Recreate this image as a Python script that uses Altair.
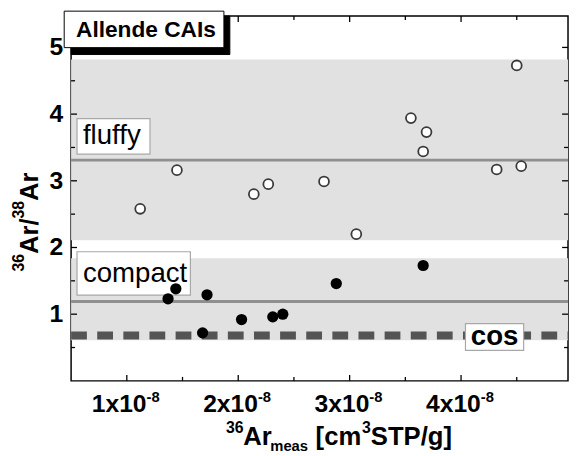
import altair as alt
import pandas as pd

# ---- data (x in units of 1e-8 cm3STP/g) ----
fluffy_x = [1.12, 1.45, 2.14, 2.27, 2.77, 3.06, 3.55, 3.69, 3.66, 4.32, 4.54, 4.50]
fluffy_y = [2.58, 3.16, 2.80, 2.95, 2.99, 2.20, 3.94, 3.73, 3.44, 3.17, 3.22, 4.73]
compact_x = [1.37, 1.44, 1.72, 1.68, 2.03, 2.31, 2.40, 2.88, 3.66]
compact_y = [1.23, 1.38, 1.29, 0.72, 0.92, 0.96, 1.00, 1.46, 1.73]

band_lo = [2.11, 0.61]
band_hi = [4.82, 1.84]
mean_lines = [3.31, 1.19]
cos_value = [0.68]

x_major = [1, 2, 3, 4]
x_minor = [1.5, 2.5, 3.5, 4.5]
y_major = [1, 2, 3, 4, 5]
y_minor = [0.5, 1.5, 2.5, 3.5, 4.5]
x_tick_text = ["1x10", "2x10", "3x10", "4x10"]
y_tick_text = ["1", "2", "3", "4", "5"]

W, H = 504, 370
FONT = "Liberation Sans"
xs = alt.Scale(domain=[0.5, 4.96], nice=False, zero=False)
ys = alt.Scale(domain=[0, 5.47], nice=False, zero=False)

one = pd.DataFrame({"k": [0]})


def X(field):
    return alt.X(field, type="quantitative", scale=xs, axis=None)


def Y(field):
    return alt.Y(field, type="quantitative", scale=ys, axis=None)


def box(x0, y0, x1, y1, fill, stroke, sw):
    return alt.Chart(one).mark_rect(fill=fill, stroke=stroke, strokeWidth=sw).encode(
        x=alt.value(x0), x2=alt.value(x1), y=alt.value(y0), y2=alt.value(y1))


def txt(s, x, y, size, weight="normal", align="left", angle=0):
    return alt.Chart(one).mark_text(
        text=s, font=FONT, fontSize=size, fontWeight=weight, align=align,
        baseline="alphabetic", angle=angle, color="black").encode(
        x=alt.value(x), y=alt.value(y))


bands_df = pd.DataFrame({"lo": band_lo, "hi": band_hi})
bands = alt.Chart(bands_df).mark_rect(color="#e1e1e1").encode(
    y=Y("lo"), y2="hi:Q", x=alt.value(0), x2=alt.value(W))

lines = alt.Chart(pd.DataFrame({"v": mean_lines})).mark_rule(
    color="#8f8f8f", strokeWidth=3).encode(y=Y("v"), x=alt.value(0), x2=alt.value(W))

cos_line = alt.Chart(pd.DataFrame({"v": cos_value})).mark_rule(
    color="#545454", strokeWidth=8, strokeDash=[16, 10.5]).encode(
    y=Y("v"), x=alt.value(0), x2=alt.value(W))

fluffy = alt.Chart(pd.DataFrame({"x": fluffy_x, "y": fluffy_y})).mark_point(
    shape="circle", filled=True, fill="white", stroke="#3a3a3a", strokeWidth=1.8,
    size=100, opacity=1).encode(x=X("x"), y=Y("y"))

compact = alt.Chart(pd.DataFrame({"x": compact_x, "y": compact_y})).mark_circle(
    color="black", size=130, opacity=1).encode(x=X("x"), y=Y("y"))


# inward ticks on all four sides
def xticks(vals, length):
    d = pd.DataFrame({"v": vals})
    b = alt.Chart(d).mark_rule(color="black", strokeWidth=1.3).encode(
        x=X("v"), y=alt.value(H), y2=alt.value(H - length))
    t = alt.Chart(d).mark_rule(color="black", strokeWidth=1.3).encode(
        x=X("v"), y=alt.value(0), y2=alt.value(length))
    return b + t


def yticks(vals, length):
    d = pd.DataFrame({"v": vals})
    l = alt.Chart(d).mark_rule(color="black", strokeWidth=1.3).encode(
        y=Y("v"), x=alt.value(0), x2=alt.value(length))
    r = alt.Chart(d).mark_rule(color="black", strokeWidth=1.3).encode(
        y=Y("v"), x=alt.value(W), x2=alt.value(W - length))
    return l + r


xlab_df = pd.DataFrame({"v": x_major, "t": x_tick_text})
xlab = alt.Chart(xlab_df).mark_text(
    font=FONT, fontSize=25, fontWeight="bold", align="right", baseline="alphabetic",
    dx=20, color="black").encode(x=X("v"), y=alt.value(402), text="t:N")
xsup = alt.Chart(xlab_df).mark_text(
    text="-8", font=FONT, fontSize=15, fontWeight="bold", align="left",
    baseline="alphabetic", dx=20, color="black").encode(x=X("v"), y=alt.value(391))

ylab_df = pd.DataFrame({"v": y_major, "t": y_tick_text})
ylab = alt.Chart(ylab_df).mark_text(
    font=FONT, fontSize=25, fontWeight="bold", align="right", baseline="middle",
    color="black").encode(y=Y("v"), x=alt.value(-8), text="t:N")

# annotation boxes
allende = (box(0, 0, 161, 39, "black", "black", 1)
           + box(-7, -5, 155, 32, "white", "black", 1)
           + txt("Allende CAIs", 5, 21, 23, "bold"))
fluffy_lab = box(6, 104, 80, 140, "white", "#a8a8a8", 1.2) + txt("fluffy", 12, 130, 28)
compact_lab = box(6, 239, 121, 283, "white", "#a8a8a8", 1.2) + txt("compact", 12, 270, 28)
cos_lab = box(400, 312, 459, 339, "white", "#a8a8a8", 1.2) + txt("cos", 429.5, 334, 28, "bold", "center")

# axis titles built from pieces (super/subscripts)
xtitle = (txt("36", 157, 423, 16, "bold") + txt("Ar", 174.5, 435, 26, "bold")
          + txt("meas", 202, 441, 15, "bold") + txt("[cm", 248, 435, 26, "bold")
          + txt("3", 295, 423, 16, "bold") + txt("STP/g]", 304, 435, 26, "bold"))
ytitle = (txt("36", -48, 259, 16, "bold", angle=270) + txt("Ar", -34, 241.3, 26, "bold", angle=270)
          + txt("/", -34, 212.5, 26, "bold", angle=270) + txt("38", -48, 205.3, 16, "bold", angle=270)
          + txt("Ar", -34, 187.5, 26, "bold", angle=270))

chart = alt.layer(
    bands, lines, cos_line, fluffy_lab, compact_lab, cos_lab,
    fluffy, compact,
    xticks(x_major, 6), xticks(x_minor, 4), yticks(y_major, 6), yticks(y_minor, 4),
    xlab, xsup, ylab, allende, xtitle, ytitle,
).properties(
    width=W, height=H,
    autosize=alt.AutoSizeParams(type="none"),
    padding={"left": 64, "top": 5, "right": 1, "bottom": 73},
).configure_view(stroke="black", strokeWidth=1.5)

chart.save("out.html", embed_options={"renderer": "svg", "actions": False})
